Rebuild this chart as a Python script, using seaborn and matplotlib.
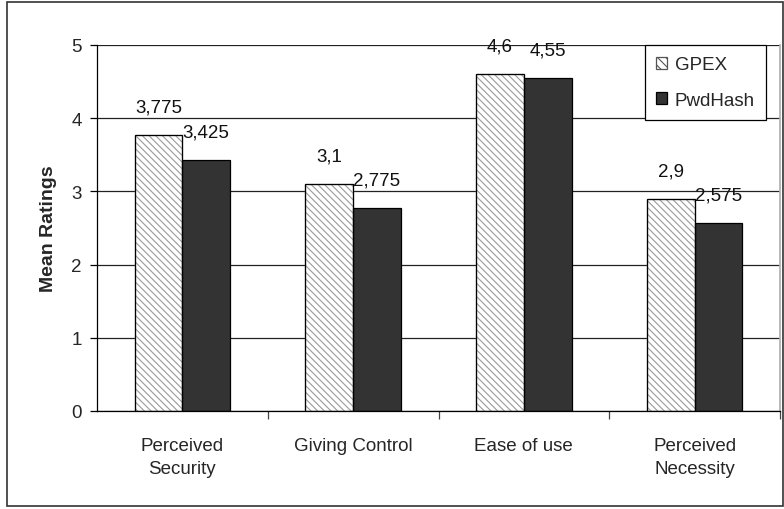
import numpy as np
import pandas as pd
import matplotlib
matplotlib.use("Agg")
import matplotlib.pyplot as plt
import seaborn as sns
from matplotlib.patches import Rectangle

categories = ["Perceived\nSecurity", "Giving Control", "Ease of use", "Perceived\nNecessity"]
series = ["GPEX", "PwdHash"]
gpex = [3.775, 3.1, 4.6, 2.9]
pwdhash = [3.425, 2.775, 4.55, 2.575]

df = pd.DataFrame({
    "Category": categories * 2,
    "Series": [series[0]] * 4 + [series[1]] * 4,
    "Rating": gpex + pwdhash,
})

sns.set_theme(style="white")
plt.rcParams["font.family"] = ["Liberation Sans", "DejaVu Sans"]
plt.rcParams["hatch.linewidth"] = 0.8

fig = plt.figure(figsize=(7.84, 5.10), dpi=100)
ax = fig.add_axes([97 / 784, 1 - 412 / 510, (780 - 97) / 784, (412 - 46) / 510])

sns.barplot(data=df, x="Category", y="Rating", hue="Series", order=categories,
            hue_order=series, palette=["white", "#333333"], width=0.56, gap=0,
            edgecolor="black", linewidth=0.9, saturation=1, legend=False, ax=ax)

# hatch the GPEX bars in light grey, then redraw a black outline on top
hatch = "\\" * 5
for bar in ax.containers[0]:
    bar.set_hatch(hatch)
    bar.set_edgecolor("#9a9a9a")
    outline = Rectangle(bar.get_xy(), bar.get_width(), bar.get_height(),
                        fill=False, edgecolor="black", linewidth=0.9, zorder=bar.get_zorder() + 0.1)
    ax.add_patch(outline)

# value labels with comma decimal
for cont, vals in zip(ax.containers, [gpex, pwdhash]):
    labels = [f"{v:g}".replace(".", ",") for v in vals]
    ax.bar_label(cont, labels=labels, padding=14, fontsize=13.5, color="#111111")

ax.set_ylim(0, 5)
ax.set_xlim(-0.5, 3.5)
ax.set_yticks(np.arange(0, 6, 1))
ax.yaxis.grid(True, color="#222222", linewidth=0.9)
ax.set_axisbelow(True)

ax.spines["top"].set_visible(False)
ax.spines["right"].set_color("#b0b0b0")
ax.spines["left"].set_color("black")
ax.spines["bottom"].set_color("black")
ax.spines["left"].set_linewidth(0.9)
ax.spines["bottom"].set_linewidth(0.9)

ax.tick_params(axis="y", left=True, length=5, width=0.9, color="black", labelsize=13.5, pad=6)
ax.tick_params(axis="x", which="major", bottom=False, labelsize=13.5, pad=13)
for lbl in ax.get_xticklabels():
    lbl.set_linespacing(1.45)
ax.set_xticks([0.5, 1.5, 2.5, 3.5], minor=True)
ax.tick_params(axis="x", which="minor", bottom=True, length=6, width=0.9, color="#444444")

ax.set_xlabel("")
ax.set_ylabel("Mean Ratings", fontsize=14, fontweight="bold", labelpad=10)

# legend with hatched / solid square keys
handles = [Rectangle((0, 0), 1, 1, facecolor="white", edgecolor="#555555", hatch="\\\\\\\\", linewidth=0.9),
           Rectangle((0, 0), 1, 1, facecolor="#333333", edgecolor="black", linewidth=0.9)]
leg = ax.legend(handles, series, loc="upper right", bbox_to_anchor=(0.98, 1.0), frameon=True,
                fontsize=13.5, fancybox=False, edgecolor="black", framealpha=1,
                handlelength=0.6, handleheight=0.6, handletextpad=0.4,
                labelspacing=1.0, borderpad=0.6, borderaxespad=0)
leg.get_frame().set_linewidth(0.9)

# outer border of the chart
fig.patches.append(Rectangle((7 / 784, 3 / 510), 776 / 784, 504 / 510,
                             transform=fig.transFigure, fill=False,
                             edgecolor="#333333", linewidth=1.2))

fig.savefig("out.png", dpi=100)
